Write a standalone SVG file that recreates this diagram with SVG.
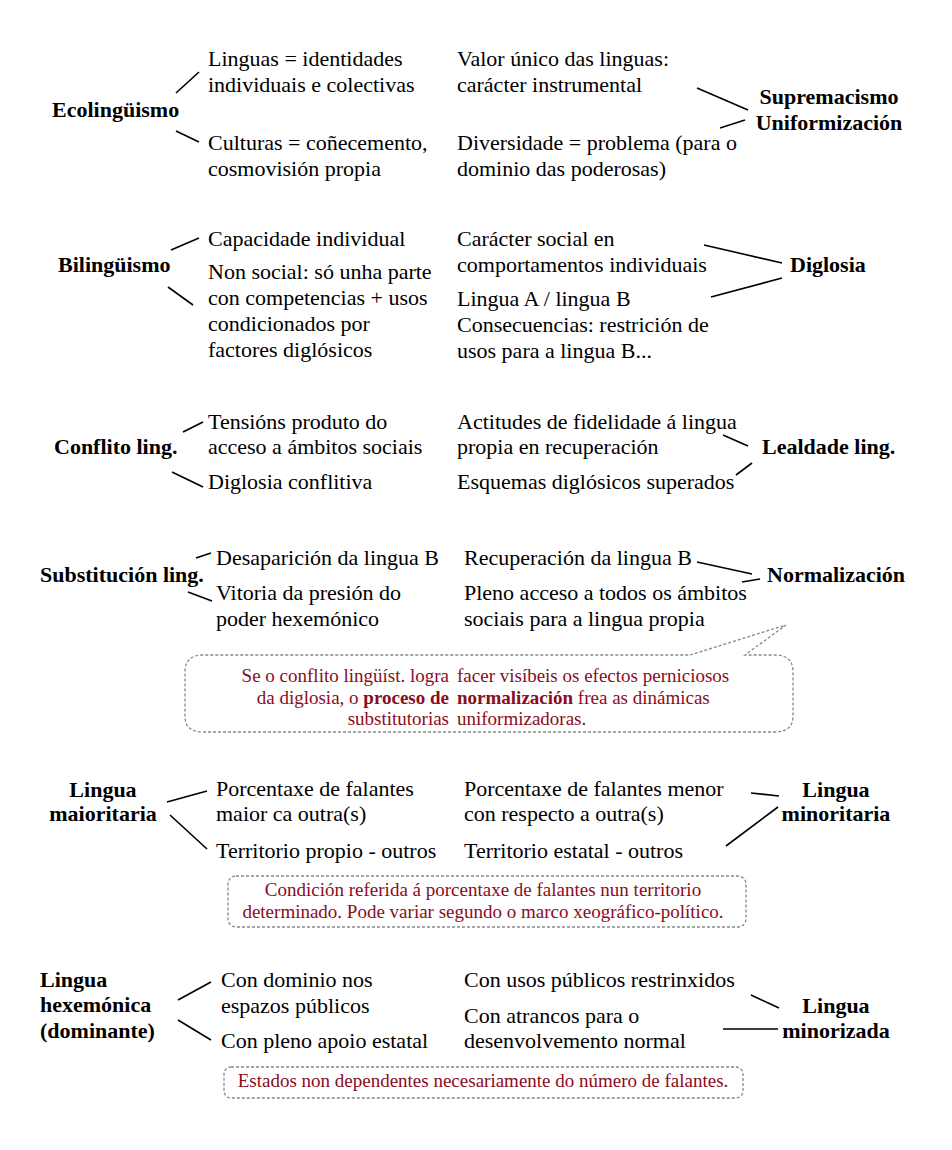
<svg xmlns="http://www.w3.org/2000/svg" width="952" height="1150" viewBox="0 0 952 1150">
<style>
text{font-family:"Liberation Serif","Times New Roman",serif;font-size:22px;fill:#000}
.b{font-weight:bold}
.n{font-size:19px;fill:#8a0c22}
.c line{stroke:#000;stroke-width:1.6}
.box{fill:none;stroke:#888;stroke-width:1.3;stroke-dasharray:3 2}
</style>
<rect width="952" height="1150" fill="#fff"/>
<g class="c" id="connectors">
<line x1="176" y1="93" x2="199" y2="72"/><line x1="176" y1="131" x2="199" y2="142"/>
<line x1="697" y1="88" x2="748" y2="110"/><line x1="720" y1="128" x2="745" y2="120"/>
<line x1="171" y1="250" x2="199" y2="238"/><line x1="168" y1="287" x2="193" y2="305"/>
<line x1="704" y1="245" x2="782" y2="263"/><line x1="711" y1="297" x2="782" y2="278"/>
<line x1="183" y1="432" x2="203" y2="422"/><line x1="172" y1="472" x2="203" y2="487"/>
<line x1="723" y1="435" x2="748" y2="446"/><line x1="736" y1="475" x2="752" y2="463"/>
<line x1="196" y1="558" x2="211" y2="553"/><line x1="188" y1="592" x2="212" y2="601"/>
<line x1="697" y1="562" x2="752" y2="574"/><line x1="742" y1="582" x2="760" y2="579"/>
<line x1="167" y1="802" x2="207" y2="791"/><line x1="170" y1="815" x2="207" y2="849"/>
<line x1="751" y1="793" x2="779" y2="796"/><line x1="726" y1="846" x2="778" y2="807"/>
<line x1="178" y1="1000" x2="211" y2="982"/><line x1="178" y1="1020" x2="211" y2="1040"/>
<line x1="751" y1="995" x2="779" y2="1008"/><line x1="723" y1="1029" x2="778" y2="1029"/>
</g>
<g id="ecolinguismo"><text class="b" x="52" y="117">Ecolingüismo</text></g>
<g id="eco-a"><text x="208" y="66">Linguas = identidades</text><text x="208" y="92">individuais e colectivas</text></g>
<g id="eco-b"><text x="208" y="150">Culturas = coñecemento,</text><text x="208" y="176">cosmovisión propia</text></g>
<g id="sup-a"><text x="457" y="66">Valor único das linguas:</text><text x="457" y="92">carácter instrumental</text></g>
<g id="sup-b"><text x="457" y="150">Diversidade = problema (para o</text><text x="457" y="176">dominio das poderosas)</text></g>
<g id="supremacismo"><text class="b" x="829" y="104" text-anchor="middle">Supremacismo</text><text class="b" x="829" y="130" text-anchor="middle">Uniformización</text></g>

<g id="bilinguismo"><text class="b" x="58" y="272">Bilingüismo</text></g>
<g id="bil-a"><text x="208" y="246">Capacidade individual</text></g>
<g id="bil-b"><text x="208" y="279">Non social: só unha parte</text><text x="208" y="305">con competencias + usos</text><text x="208" y="331">condicionados por</text><text x="208" y="357">factores diglósicos</text></g>
<g id="dig-a"><text x="457" y="246">Carácter social en</text><text x="457" y="272">comportamentos individuais</text></g>
<g id="dig-b"><text x="457" y="306">Lingua A / lingua B</text><text x="457" y="332">Consecuencias: restrición de</text><text x="457" y="358">usos para a lingua B...</text></g>
<g id="diglosia"><text class="b" x="790" y="272">Diglosia</text></g>

<g id="conflito"><text class="b" x="54" y="454">Conflito ling.</text></g>
<g id="con-a"><text x="208" y="429">Tensións produto do</text><text x="208" y="454">acceso a ámbitos sociais</text></g>
<g id="con-b"><text x="208" y="489">Diglosia conflitiva</text></g>
<g id="leal-a"><text x="457" y="429">Actitudes de fidelidade á lingua</text><text x="457" y="454">propia en recuperación</text></g>
<g id="leal-b"><text x="457" y="489">Esquemas diglósicos superados</text></g>
<g id="lealdade"><text class="b" x="762" y="454">Lealdade ling.</text></g>

<g id="substitucion"><text class="b" x="40" y="582">Substitución ling.</text></g>
<g id="sub-a"><text x="216" y="565">Desaparición da lingua B</text></g>
<g id="sub-b"><text x="216" y="600">Vitoria da presión do</text><text x="216" y="626">poder hexemónico</text></g>
<g id="nor-a"><text x="464" y="565">Recuperación da lingua B</text></g>
<g id="nor-b"><text x="464" y="600">Pleno acceso a todos os ámbitos</text><text x="464" y="626">sociais para a lingua propia</text></g>
<g id="normalizacion"><text class="b" x="767" y="582">Normalización</text></g>

<g id="callout">
<path class="box" d="M690,655 L786,625 L745,655 L775,655 Q793,655 793,672 L793,716 Q793,732 775,732 L203,732 Q185,732 185,716 L185,672 Q185,655 203,655 Z"/>
<text class="n" x="449" y="682" text-anchor="end">Se o conflito lingüíst. logra</text><text class="n" x="457" y="682">facer visíbeis os efectos perniciosos</text>
<text class="n" x="449" y="704" text-anchor="end">da diglosia, o <tspan font-weight="bold">proceso de</tspan></text><text class="n" x="457" y="704"><tspan font-weight="bold">normalización</tspan> frea as dinámicas</text>
<text class="n" x="449" y="725" text-anchor="end">substitutorias</text><text class="n" x="457" y="725">uniformizadoras.</text>
</g>

<g id="maioritaria"><text class="b" x="103" y="797" text-anchor="middle">Lingua</text><text class="b" x="103" y="821" text-anchor="middle">maioritaria</text></g>
<g id="mai-a"><text x="216" y="796">Porcentaxe de falantes</text><text x="216" y="821">maior ca outra(s)</text></g>
<g id="mai-b"><text x="216" y="858">Territorio propio - outros</text></g>
<g id="min-a"><text x="464" y="796">Porcentaxe de falantes menor</text><text x="464" y="821">con respecto a outra(s)</text></g>
<g id="min-b"><text x="464" y="858">Territorio estatal - outros</text></g>
<g id="minoritaria"><text class="b" x="836" y="797" text-anchor="middle">Lingua</text><text class="b" x="836" y="821" text-anchor="middle">minoritaria</text></g>
<g id="note1">
<rect class="box" x="228" y="876" width="518" height="51" rx="8"/>
<text class="n" x="483" y="896" text-anchor="middle">Condición referida á porcentaxe de falantes nun territorio</text>
<text class="n" x="483" y="918" text-anchor="middle">determinado. Pode variar segundo o marco xeográfico-político.</text>
</g>

<g id="hexemonica"><text class="b" x="40" y="987">Lingua</text><text class="b" x="40" y="1012">hexemónica</text><text class="b" x="40" y="1038">(dominante)</text></g>
<g id="hex-a"><text x="221" y="987">Con dominio nos</text><text x="221" y="1013">espazos públicos</text></g>
<g id="hex-b"><text x="221" y="1048">Con pleno apoio estatal</text></g>
<g id="mnz-a"><text x="464" y="987">Con usos públicos restrinxidos</text></g>
<g id="mnz-b"><text x="464" y="1023">Con atrancos para o</text><text x="464" y="1048">desenvolvemento normal</text></g>
<g id="minorizada"><text class="b" x="836" y="1013" text-anchor="middle">Lingua</text><text class="b" x="836" y="1038" text-anchor="middle">minorizada</text></g>
<g id="note2">
<rect class="box" x="224" y="1067" width="519" height="31" rx="7"/>
<text class="n" x="483" y="1087" text-anchor="middle">Estados non dependentes necesariamente do número de falantes.</text>
</g>
</svg>
